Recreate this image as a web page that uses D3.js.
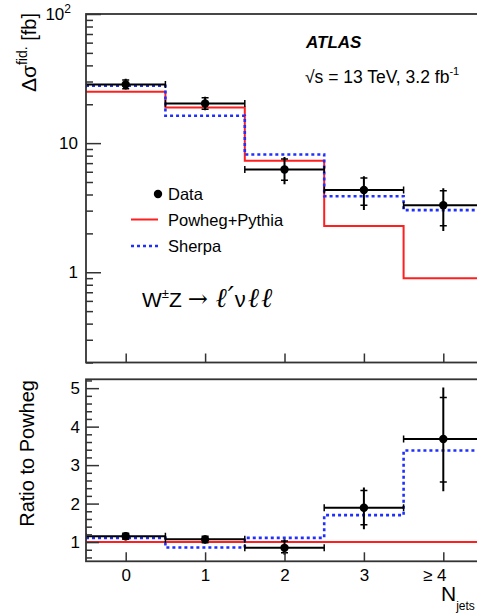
<!DOCTYPE html>
<html><head><meta charset="utf-8">
<script src="https://cdn.jsdelivr.net/npm/d3@7"></script>
<style>
body{margin:0;background:#fff}
svg{display:block}
text{font-family:"Liberation Sans",Arial,Helvetica,sans-serif;fill:#000}
</style>
</head><body>
<svg id="chart" width="477" height="614"></svg>
<script>
// Jet multiplicity bins
const categories = ["0", "1", "2", "3", "\u2265 4"];
const binCenters = [0, 1, 2, 3, 4];

// Fiducial cross section per bin [fb]
const dataXsec   = [28.5, 20.3, 6.25, 4.33, 3.30];
const dataTotUp  = [31.5, 22.9, 7.80, 5.55, 4.48];
const dataTotDn  = [26.0, 18.0, 4.80, 3.03, 2.09];
const dataStatUp = [30.8, 22.5, 7.55, 5.38, 4.27];
const dataStatDn = [26.4, 18.3, 5.15, 3.30, 2.29];
const powhegXsec = [25.0, 18.9, 7.30, 2.28, 0.90];
const sherpaXsec = [27.8, 16.3, 8.17, 3.88, 3.03];

// Ratio to Powheg+Pythia
const ratioData   = [1.15, 1.07, 0.85, 1.89, 3.68];
const ratioTotUp  = [1.25, 1.17, 1.07, 2.42, 5.02];
const ratioTotDn  = [1.05, 0.96, 0.67, 1.33, 2.32];
const ratioStatUp = [1.23, 1.15, 1.03, 2.34, 4.76];
const ratioStatDn = [1.07, 0.98, 0.72, 1.45, 2.56];
const ratioPowheg = [1, 1, 1, 1, 1];
const ratioSherpa = [1.11, 0.86, 1.11, 1.70, 3.38];

// Axis ticks
const topMajorTicks = [1, 10, 100];
const topMinorTicks = [0.2,0.3,0.4,0.5,0.6,0.7,0.8,0.9,2,3,4,5,6,7,8,9,20,30,40,50,60,70,80,90];
const ratioMajorTicks = [1, 2, 3, 4, 5];
const ratioMinorTicks = [0.6,0.8,1.2,1.4,1.6,1.8,2.2,2.4,2.6,2.8,3.2,3.4,3.6,3.8,4.2,4.4,4.6,4.8,5.2];

const RED = "#ff1f1f", BLUE = "#1f2fff", AXIS = "#333";

const svg = d3.select("#chart");
svg.append("rect").attr("width", 477).attr("height", 614).attr("fill", "#fff");

const x = d3.scaleLinear().domain([-0.5, 4.5]).range([86, 483]);
const yTop = d3.scaleLog().domain([0.2, 100]).range([362.5, 14]);
const yRat = d3.scaleLinear().domain([0.5, 5.23]).range([561.3, 379.3]);

const stepPoints = vals => vals.flatMap((v, i) => [[binCenters[i] - 0.5, v], [binCenters[i] + 0.5, v]]);

function panel(id, y, powheg, sherpa, val, totUp, totDn, statUp, statDn) {
  const [y0, y1] = y.range();
  const g = svg.append("g");
  svg.append("clipPath").attr("id", id).append("rect")
    .attr("x", x.range()[0]).attr("y", y1).attr("width", x.range()[1] - x.range()[0]).attr("height", y0 - y1);
  const plot = g.append("g").attr("clip-path", `url(#${id})`);
  const line = d3.line().x(d => x(d[0])).y(d => y(d[1]));

  plot.append("path").attr("d", line(stepPoints(powheg)))
    .attr("fill", "none").attr("stroke", RED).attr("stroke-width", 2);
  plot.append("path").attr("d", line(stepPoints(sherpa)))
    .attr("fill", "none").attr("stroke", BLUE).attr("stroke-width", 2.6)
    .attr("stroke-dasharray", "3,3");

  const pts = plot.selectAll("g.pt").data(binCenters).join("g").attr("class", "pt");
  // horizontal bin-width bars with end caps
  pts.append("line")
    .attr("x1", i => x(i - 0.5)).attr("x2", i => x(i + 0.5))
    .attr("y1", i => y(val[i])).attr("y2", i => y(val[i]))
    .attr("stroke", "#000").attr("stroke-width", 2);
  pts.append("line")
    .attr("x1", i => x(i - 0.5)).attr("x2", i => x(i - 0.5))
    .attr("y1", i => y(val[i]) - 3.5).attr("y2", i => y(val[i]) + 3.5)
    .attr("stroke", "#000").attr("stroke-width", 1.5);
  pts.append("line")
    .attr("x1", i => x(i + 0.5)).attr("x2", i => x(i + 0.5))
    .attr("y1", i => y(val[i]) - 3.5).attr("y2", i => y(val[i]) + 3.5)
    .attr("stroke", "#000").attr("stroke-width", 1.5);
  // vertical total uncertainty
  pts.append("line")
    .attr("x1", i => x(i)).attr("x2", i => x(i))
    .attr("y1", i => y(totUp[i])).attr("y2", i => y(totDn[i]))
    .attr("stroke", "#000").attr("stroke-width", 2);
  // statistical uncertainty ticks
  [statUp, statDn].forEach(arr => {
    pts.append("line")
      .attr("x1", i => x(i) - 3.5).attr("x2", i => x(i) + 3.5)
      .attr("y1", i => y(arr[i])).attr("y2", i => y(arr[i]))
      .attr("stroke", "#000").attr("stroke-width", 1.5);
  });
  pts.append("circle").attr("cx", i => x(i)).attr("cy", i => y(val[i])).attr("r", 4.2).attr("fill", "#000");

  // frame
  g.append("rect").attr("x", x.range()[0]).attr("y", y1)
    .attr("width", x.range()[1] - x.range()[0]).attr("height", y0 - y1)
    .attr("fill", "none").attr("stroke", AXIS).attr("stroke-width", 1.8);
  return g;
}

function styleAxis(a) {
  a.select(".domain").remove();
  a.selectAll(".tick line").attr("stroke", AXIS).attr("stroke-width", 1.5);
  a.selectAll(".tick text").attr("font-size", 17).attr("fill", "#000")
    .attr("font-family", '"Liberation Sans",Arial,Helvetica,sans-serif');
}

// ---- upper panel: cross section ----
const gTop = panel("clipTop", yTop, powhegXsec, sherpaXsec, dataXsec, dataTotUp, dataTotDn, dataStatUp, dataStatDn);

const aTopMaj = gTop.append("g").attr("transform", `translate(${x.range()[0]},0)`)
  .call(d3.axisLeft(yTop).tickValues(topMajorTicks).tickSize(-15).tickPadding(8)
    .tickFormat(d => d === 100 ? "10" : String(d)));
styleAxis(aTopMaj);
aTopMaj.selectAll(".tick text").filter(d => d === 100)
  .attr("x", -15)
  .append("tspan").text("2").attr("font-size", 12).attr("dy", -7);
const aTopMin = gTop.append("g").attr("transform", `translate(${x.range()[0]},0)`)
  .call(d3.axisLeft(yTop).tickValues(topMinorTicks).tickSize(-7).tickFormat(""));
styleAxis(aTopMin);
const aTopX = gTop.append("g").attr("transform", `translate(0,${yTop.range()[0]})`)
  .call(d3.axisBottom(x).tickValues(binCenters).tickSize(-9).tickFormat(""));
styleAxis(aTopX);

// y title
const tTop = svg.append("text")
  .attr("transform", "translate(36,13) rotate(-90)")
  .attr("text-anchor", "end").attr("font-size", 21);
tTop.append("tspan").text("\u0394\u03c3");
tTop.append("tspan").text("fid.").attr("font-size", 14).attr("dy", -9);
tTop.append("tspan").text(" [fb]").attr("dy", 9).attr("font-size", 20);

// labels
svg.append("text").attr("x", 306).attr("y", 48).attr("font-size", 17)
  .attr("font-weight", "bold").attr("font-style", "italic").text("ATLAS");
const tLumi = svg.append("text").attr("x", 305).attr("y", 83).attr("font-size", 17.5);
tLumi.append("tspan").text("\u221as = 13 TeV, 3.2 fb");
tLumi.append("tspan").text("-1").attr("font-size", 11).attr("dy", -8);

const SERIF = '"DejaVu Serif","Liberation Serif",serif';
const tProc = svg.append("text").attr("x", 142).attr("y", 307).attr("font-size", 21);
tProc.append("tspan").text("W");
tProc.append("tspan").text("\u00b1").attr("font-size", 13).attr("dy", -9);
tProc.append("tspan").text("Z ").attr("dy", 9);
tProc.append("tspan").text("\u2192  ").attr("font-family", SERIF).attr("font-size", 24);
tProc.append("tspan").text("\u2113\u2032").attr("font-family", SERIF).attr("font-style", "italic")
  .attr("font-size", 27).attr("letter-spacing", 1);
tProc.append("tspan").text("\u03bd").attr("font-size", 22).attr("letter-spacing", 2);
tProc.append("tspan").text("\u2113\u2113").attr("font-family", SERIF).attr("font-style", "italic")
  .attr("font-size", 27).attr("letter-spacing", 2);

// legend
const legend = svg.append("g");
legend.append("circle").attr("cx", 158).attr("cy", 194).attr("r", 4.2).attr("fill", "#000");
legend.append("line").attr("x1", 131).attr("x2", 158).attr("y1", 219.5).attr("y2", 219.5)
  .attr("stroke", RED).attr("stroke-width", 2);
legend.append("line").attr("x1", 131).attr("x2", 158).attr("y1", 246).attr("y2", 246)
  .attr("stroke", BLUE).attr("stroke-width", 2.6).attr("stroke-dasharray", "3,3");
legend.selectAll("text.lg").data(["Data", "Powheg+Pythia", "Sherpa"]).join("text")
  .attr("class", "lg").attr("x", 168).attr("y", (d, i) => 200 + i * 26)
  .attr("font-size", 16.5).text(d => d);

// ---- lower panel: ratio ----
const gRat = panel("clipRat", yRat, ratioPowheg, ratioSherpa, ratioData, ratioTotUp, ratioTotDn, ratioStatUp, ratioStatDn);
const aRatMaj = gRat.append("g").attr("transform", `translate(${x.range()[0]},0)`)
  .call(d3.axisLeft(yRat).tickValues(ratioMajorTicks).tickSize(-13).tickPadding(6).tickFormat(d3.format("d")));
styleAxis(aRatMaj);
const aRatMin = gRat.append("g").attr("transform", `translate(${x.range()[0]},0)`)
  .call(d3.axisLeft(yRat).tickValues(ratioMinorTicks).tickSize(-6).tickFormat(""));
styleAxis(aRatMin);
const aRatX = gRat.append("g").attr("transform", `translate(0,${yRat.range()[0]})`)
  .call(d3.axisBottom(x).tickValues(binCenters).tickSize(-9).tickPadding(8)
    .tickFormat((d, i) => categories[i]));
styleAxis(aRatX);
aRatX.selectAll(".tick text").filter(d => d === 4).attr("dx", -9);

svg.append("text").attr("transform", "translate(34,380) rotate(-90)")
  .attr("text-anchor", "end").attr("font-size", 20).text("Ratio to Powheg");

const tX = svg.append("text").attr("x", 441).attr("y", 601).attr("font-size", 21);
tX.append("tspan").text("N");
tX.append("tspan").text("jets").attr("font-size", 12).attr("dy", 9);
</script>
</body></html>
